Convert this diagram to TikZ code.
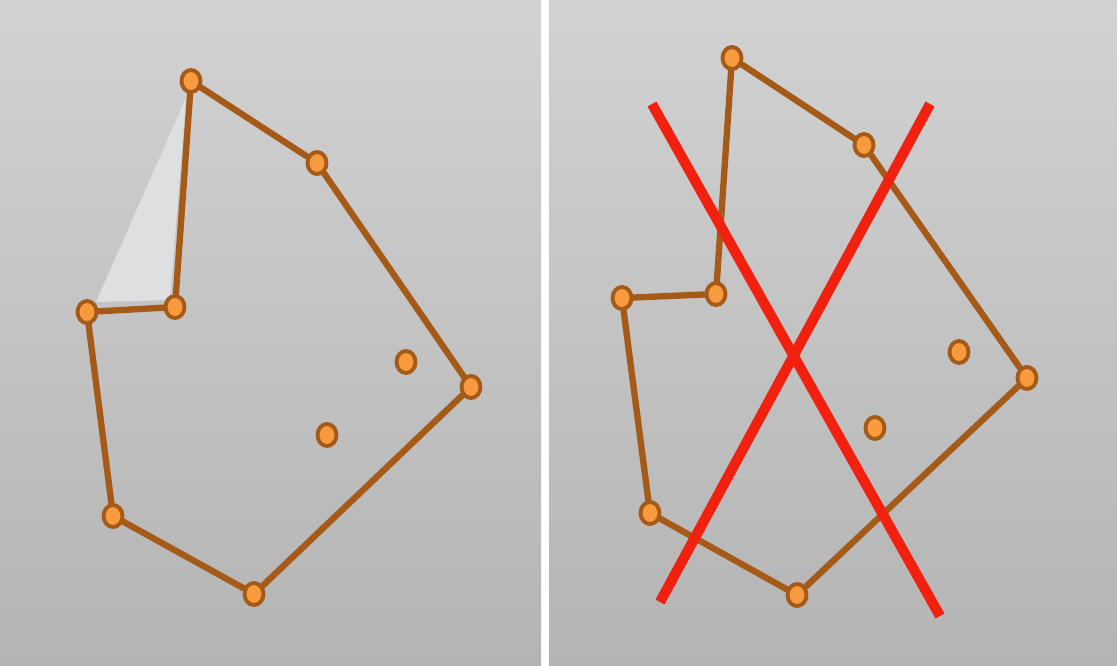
\documentclass[tikz,border=0pt]{standalone}
\usepackage{tikz}
\usetikzlibrary{shapes.geometric}
\definecolor{dotfill}{HTML}{F89B3E}
\definecolor{edgebrown}{HTML}{A65A17}
\definecolor{crossred}{HTML}{F2200F}
\definecolor{paperlight}{HTML}{D2D2D2}
\definecolor{paperdark}{HTML}{B4B4B4}
\definecolor{flap}{HTML}{DEDFE1}

\begin{document}
\begin{tikzpicture}[
  x=0.01cm, y=-0.01cm,
  vertex/.style={
    ellipse,
    draw=edgebrown,
    fill=dotfill,
    line width=1.1pt,
    minimum width=0.19cm,
    minimum height=0.22cm,
    inner sep=0pt
  },
  edge/.style={draw=edgebrown, line width=1.8pt, line cap=round},
  cross/.style={draw=crossred, line width=2.9pt},
  panel/.style={top color=paperlight, bottom color=paperdark, draw=none}
]

  % page and the two panels
  \fill[white] (0,0) rectangle (1117,666);
  \path[panel] (0,0) rectangle (541,666);
  \path[panel] (549,0) rectangle (1117,666);

  % left: polygon with the folded flap
  \fill[flap] (186,98) -- (96,302) -- (170,300) -- cycle;

  \node[vertex] (la) at (191,81) {};
  \node[vertex] (lb) at (317,163) {};
  \node[vertex] (lc) at (471,387) {};
  \node[vertex] (ld) at (254,594) {};
  \node[vertex] (le) at (113,516) {};
  \node[vertex] (lf) at (87,312) {};
  \node[vertex] (lg) at (175,307) {};
  \node[vertex] (lp) at (406,362) {};
  \node[vertex] (lq) at (327,435) {};

  \draw[edge] (la) -- (lb);
  \draw[edge] (lb) -- (lc);
  \draw[edge] (lc) -- (ld);
  \draw[edge] (ld) -- (le);
  \draw[edge] (le) -- (lf);
  \draw[edge] (lf) -- (lg);
  \draw[edge] (lg) -- (la);

  % right: same polygon, crossed out
  \node[vertex] (ra) at (732,58) {};
  \node[vertex] (rb) at (864,145) {};
  \node[vertex] (rc) at (1027,378) {};
  \node[vertex] (rd) at (797,595) {};
  \node[vertex] (re) at (650,513) {};
  \node[vertex] (rf) at (622,298) {};
  \node[vertex] (rg) at (716,294) {};
  \node[vertex] (rp) at (959,352) {};
  \node[vertex] (rq) at (875,428) {};

  \draw[edge] (ra) -- (rb);
  \draw[edge] (rb) -- (rc);
  \draw[edge] (rc) -- (rd);
  \draw[edge] (rd) -- (re);
  \draw[edge] (re) -- (rf);
  \draw[edge] (rf) -- (rg);
  \draw[edge] (rg) -- (ra);

  \coordinate (x1s) at (652,104);
  \coordinate (x1e) at (940,616);
  \coordinate (x2s) at (930,104);
  \coordinate (x2e) at (660,602);
  \draw[cross] (x1s) -- (x1e);
  \draw[cross] (x2s) -- (x2e);

\end{tikzpicture}
\end{document}
